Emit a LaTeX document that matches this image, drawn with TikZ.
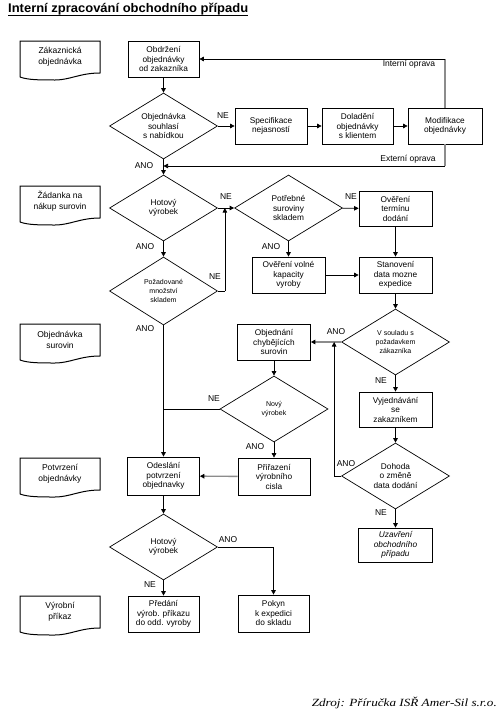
\documentclass[tikz,border=0pt]{standalone}
\usepackage{fontspec}
\setmainfont{Liberation Sans}
\newfontfamily\serifit{Liberation Serif}
\usetikzlibrary{shapes.geometric,arrows.meta}
\tikzset{
  box/.style={draw, line width=0.7pt, minimum width=72pt, minimum height=36pt, inner sep=1pt, align=center, font=\fontsize{8.3}{9.5}\selectfont},
  dec/.style={draw, diamond, aspect=1.64, line width=0.7pt, minimum width=108pt, minimum height=66pt, inner sep=0pt, align=center, font=\fontsize{8.3}{9.5}\selectfont},
  smalltext/.style={font=\fontsize{7}{9}\selectfont},
  lbl/.style={font=\fontsize{8.5}{9}\selectfont, inner sep=0pt},
  arr/.style={-{Triangle[length=4.5pt,width=4.5pt]}, line width=0.7pt},
  grayarr/.style={-{Triangle[length=4.5pt,width=4.5pt,color=black]}, line width=1.4pt, draw=black!45},
  ln/.style={line width=0.7pt},
  grayln/.style={line width=1.4pt, draw=black!45},
  doctext/.style={font=\fontsize{8.5}{11}\selectfont, align=center, inner sep=0pt}
}
\newcommand\docshape[3]{%
  \draw[line width=1pt] (20,#2+36) -- (20,#2) -- (100,#2) -- (100,#2+32)
     .. controls (80,#2+32) and (70,#2+39) .. (55,#2+39)
     .. controls (40,#2+39) and (28,#2+39) .. (20,#2+36);
  \node[doctext] (#1) at (60,#2+15.5) {#3};}
\begin{document}
\begin{tikzpicture}[x=1pt,y=-1pt]
\fill[white] (0,0) rectangle (500,712);
\useasboundingbox (0,0) rectangle (500,712);

% title
\node[anchor=base west, inner sep=0pt] (title) at (8,12.7) {\resizebox{240pt}{\height}{\fontsize{12.5}{14}\selectfont\bfseries Interní zpracování obchodního případu}};
\draw[line width=1.1pt] (8,15.8) -- (248,15.8);

% documents
\docshape{doc1}{41}{Zákaznická\\objednávka}
\docshape{doc2}{186}{Žádanka na\\nákup surovin}
\docshape{doc3}{324}{Objednávka\\surovin}
\docshape{doc4}{458}{Potvrzení\\objednávky}
\docshape{doc5}{596}{Výrobní\\příkaz}

% process nodes
\node[box, minimum width=71pt] (obd) at (163.5,59) {Obdržení\\objednávky\\od zakazníka};
\node[dec] (d1) at (163.5,126) {Objednávka\\souhlasí\\s nabídkou};
\node[box] (spec) at (271,126) {Specifikace\\nejasností};
\node[box, minimum width=71pt] (dol) at (357.5,126) {Doladění\\objednávky\\s klientem};
\node[box, minimum width=74pt] (mod) at (445,126) {Modifikace\\objednávky};
\node[dec] (d2) at (163.5,208) {Hotový\\výrobek};
\node[dec, smalltext, minimum height=68pt] (d3) at (163.5,291) {Požadované\\množství\\skladem};
\node[dec] (d4) at (288.5,208) {Potřebné\\suroviny\\skladem};
\node[box, minimum width=73pt, minimum height=35pt] (term) at (395.5,208.5) {Ověření\\termínu\\dodání};
\node[box, minimum width=73pt] (vol) at (288.5,275) {Ověření volné\\kapacity\\vyroby};
\node[box, minimum width=73pt] (stan) at (395.5,275) {Stanovení\\data mozne\\expedice};
\node[dec, smalltext] (d5) at (395.5,342) {V souladu s\\požadavkem\\zákazníka};
\node[box, minimum width=73pt] (chyb) at (274,342) {Objednání\\chybějících\\surovin};
\node[dec, smalltext] (d6) at (274,409) {Nový\\výrobek};
\node[box, minimum height=37pt] (prir) at (274,476.5) {Přiřazení\\výrobního\\cisla};
\node[box, minimum height=38pt] (odes) at (163.5,476) {Odeslání\\potvrzení\\objednavky};
\node[box, minimum width=73pt, minimum height=35pt] (vyj) at (395.5,409.5) {Vyjednávání\\se\\zakazníkem};
\node[dec] (d7) at (395.5,476) {Dohoda\\o změně\\data dodání};
\node[box, minimum width=74pt, minimum height=34pt, font=\fontsize{8.3}{9.5}\selectfont\itshape] (uzav) at (395.5,545) {Uzavření\\obchodního\\případu};
\node[dec] (d8) at (163.5,547) {Hotový\\výrobek};
\node[box, minimum width=71pt] (pred) at (163.5,614) {Předání\\výrob. příkazu\\do odd. vyroby};
\node[box, minimum width=71pt, minimum height=37pt] (pok) at (273.5,613.5) {Pokyn\\k expedici\\do skladu};

% connectors
\draw[arr] (obd) -- (d1);
\draw[arr] (d1) -- (spec);
\draw[arr] (spec) -- (dol);
\draw[arr] (dol) -- (mod);
\coordinate (io) at (mod.north |- obd.east);
\draw[grayln] (mod.north) -- (io);
\draw[arr] (io) -- (obd.east);
\coordinate (eo) at (mod.south |- 0,166);
\coordinate (eoj) at (d1.south |- eo);
\draw[grayln] (mod.south) -- (eo);
\draw[arr] (eo) -- (eoj);
\draw[arr] (d1) -- (d2);
\draw[arr] (d2) -- (d4);
\draw[arr] (d2) -- (d3);
\coordinate (n3) at ([xshift=7pt]d3.east);
\coordinate (n3t) at (n3 |- d2.east);
\draw[ln] (d3.east) -- (n3);
\draw[arr] (n3) -- (n3t);
\draw[arr] (d4) -- (term);
\draw[arr] (d4) -- (vol);
\draw[arr] (term) -- (stan);
\draw[arr] (vol) -- (stan);
\draw[arr] (stan) -- (d5);
\draw[grayarr] (d5) -- (chyb);
\draw[arr] (d5) -- (vyj);
\draw[arr] (vyj) -- (d7);
\draw[arr] (d7) -- (uzav);
\coordinate (n7) at ([xshift=-7pt]d7.west);
\coordinate (n7t) at (n7 |- d5.west);
\draw[ln] (d7.west) -- (n7);
\draw[arr] (n7) -- (n7t);
\draw[arr] (chyb) -- (d6);
\draw[arr] (d6) -- (prir);
\draw[grayarr] (prir) -- (odes);
\draw[arr] (d3) -- (odes);
\coordinate (n6) at (d3.south |- d6.west);
\draw[ln] (d6.west) -- (n6);
\draw[arr] (odes) -- (d8);
\draw[arr] (d8) -- (pred);
\draw[arr] (d8.east) -| (pok.north);

% labels
\node[lbl] (li) at (409,64) {Interní oprava};
\node[lbl] (le) at (408,159) {Externí oprava};
\node[lbl] (l1) at (223,116) {NE};
\node[lbl] (l2) at (144,166) {ANO};
\node[lbl] (l3) at (226,197) {NE};
\node[lbl] (l4) at (145,247) {ANO};
\node[lbl] (l5) at (215,277) {NE};
\node[lbl] (l6) at (145,329) {ANO};
\node[lbl] (l7) at (351,197) {NE};
\node[lbl] (l8) at (271,247) {ANO};
\node[lbl] (l9) at (336,332) {ANO};
\node[lbl] (l10) at (381,381) {NE};
\node[lbl] (l11) at (346,464) {ANO};
\node[lbl] (l12) at (381,513) {NE};
\node[lbl] (l13) at (214,399) {NE};
\node[lbl] (l14) at (255,447) {ANO};
\node[lbl] (l15) at (228,540) {ANO};
\node[lbl] (l16) at (150,585) {NE};

% source
\node[anchor=base east, inner sep=0pt] (src) at (497,706) {\resizebox{185pt}{\height}{\serifit\itshape\fontsize{11}{13}\selectfont Zdroj: Příručka ISŘ Amer-Sil s.r.o.}};
\end{tikzpicture}
\end{document}
